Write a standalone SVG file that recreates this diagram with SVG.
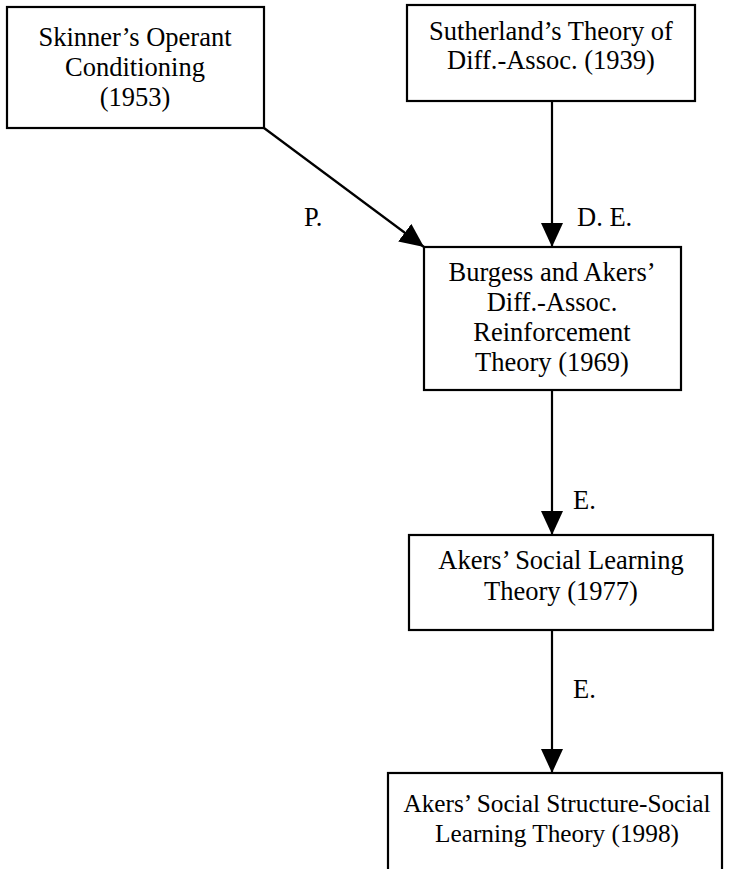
<svg xmlns="http://www.w3.org/2000/svg" width="738" height="869" viewBox="0 0 738 869">
  <style>
    .box { fill: #fff; stroke: #000; stroke-width: 2.2; }
    .t { font-family: "Liberation Serif", "Times New Roman", serif; font-size: 26.5px; fill: #000; text-anchor: middle; }
    .sm { font-size: 25.3px; }
    .lbl { font-family: "Liberation Serif", "Times New Roman", serif; font-size: 26.5px; fill: #000; }
    .edge { stroke: #000; stroke-width: 2.2; fill: none; marker-end: url(#head); }
  </style>
  <defs>
    <marker id="head" viewBox="0 0 24 22" refX="24" refY="11" markerWidth="24" markerHeight="22" markerUnits="userSpaceOnUse" orient="auto">
      <path d="M0,0 L24,11 L0,22 Z" fill="#000"/>
    </marker>
  </defs>
  <rect width="738" height="869" fill="#fff"/>

  <g id="connectors">
    <line class="edge" x1="264" y1="128" x2="424" y2="247"/>
    <line class="edge" x1="552" y1="101" x2="552" y2="247"/>
    <line class="edge" x1="552" y1="390" x2="552" y2="535"/>
    <line class="edge" x1="552" y1="630" x2="552" y2="773"/>
    <text class="lbl" x="304" y="226">P.</text>
    <text class="lbl" x="577" y="226">D. E.</text>
    <text class="lbl" x="573" y="509">E.</text>
    <text class="lbl" x="573" y="698">E.</text>
  </g>

  <g id="skinner">
    <rect class="box" x="7" y="7" width="257" height="121"/>
    <text class="t" x="135" y="46">Skinner’s Operant</text>
    <text class="t" x="135" y="76">Conditioning</text>
    <text class="t" x="135" y="106">(1953)</text>
  </g>

  <g id="sutherland">
    <rect class="box" x="407" y="5" width="288" height="96"/>
    <text class="t" x="551" y="40">Sutherland’s Theory of</text>
    <text class="t" x="551" y="69">Diff.-Assoc. (1939)</text>
  </g>

  <g id="burgess-akers">
    <rect class="box" x="424" y="247" width="257" height="143"/>
    <text class="t" x="552" y="281">Burgess and Akers’</text>
    <text class="t" x="552" y="311">Diff.-Assoc.</text>
    <text class="t" x="552" y="341">Reinforcement</text>
    <text class="t" x="552" y="371">Theory (1969)</text>
  </g>

  <g id="social-learning">
    <rect class="box" x="409" y="535" width="304" height="95"/>
    <text class="t" x="561" y="569">Akers’ Social Learning</text>
    <text class="t" x="561" y="600">Theory (1977)</text>
  </g>

  <g id="ssl">
    <rect class="box" x="388" y="773" width="334" height="120"/>
    <text class="t sm" x="557" y="812">Akers’ Social Structure-Social</text>
    <text class="t sm" x="557" y="842">Learning Theory (1998)</text>
  </g>
</svg>
